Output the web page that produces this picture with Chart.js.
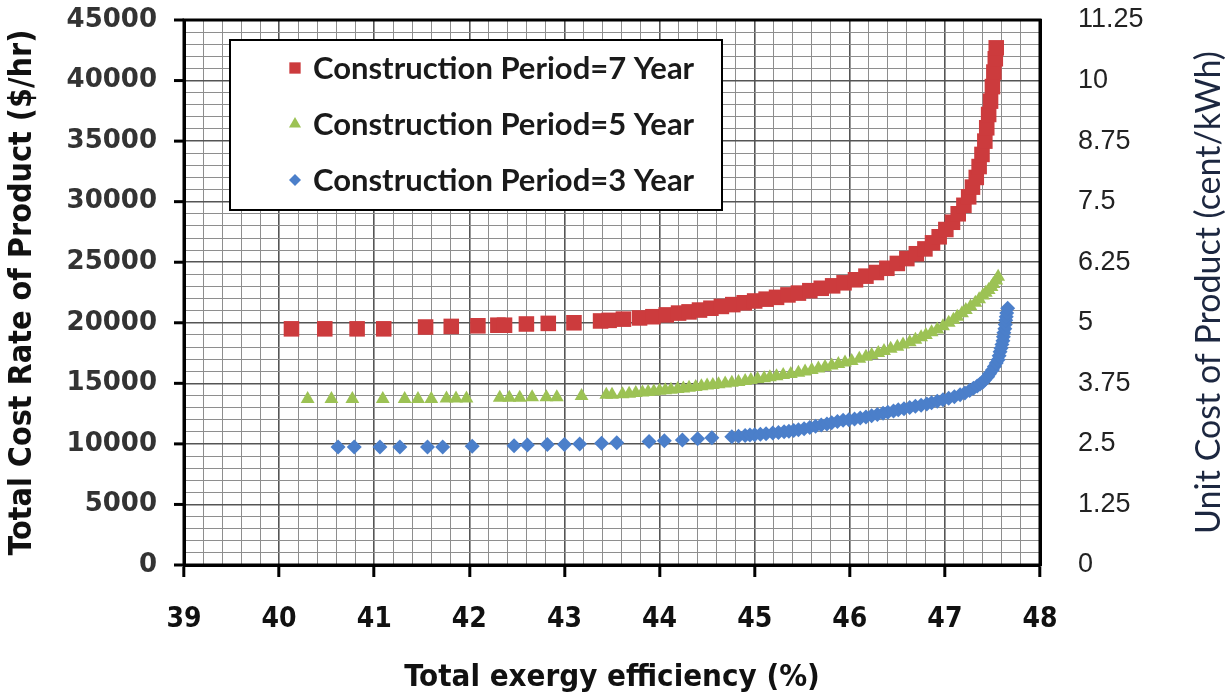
<!DOCTYPE html>
<html>
<head>
<meta charset="utf-8">
<script src="https://cdn.jsdelivr.net/npm/chart.js@4.4.0/dist/chart.umd.min.js"></script>
<style>
  body { margin: 0; background: #fff; }
  #wrap { width: 1228px; height: 697px; }
</style>
</head>
<body>
<div id="wrap"><canvas id="costChart" width="1228" height="697"></canvas></div>
<script>
// Construction period = 7 years
const eff7 = [40.13, 40.48, 40.82, 41.10, 41.54, 41.81, 42.09, 42.30, 42.37, 42.60, 42.83, 43.10, 43.38, 43.47, 43.62, 43.79, 43.93, 44.07, 44.20, 44.31, 44.42, 44.54, 44.65, 44.77, 44.89, 45.00, 45.12, 45.23, 45.35, 45.46, 45.58, 45.70, 45.82, 45.94, 46.06, 46.17, 46.28, 46.39, 46.50, 46.60, 46.70, 46.79, 46.87, 46.94, 47.01, 47.08, 47.14, 47.20, 47.25, 47.29, 47.33, 47.36, 47.39, 47.42, 47.44, 47.46, 47.48, 47.50, 47.515, 47.53, 47.54];
const cost7 = [19500, 19500, 19500, 19500, 19650, 19700, 19750, 19800, 19800, 19900, 19950, 20000, 20150, 20200, 20300, 20400, 20500, 20650, 20800, 20900, 21050, 21200, 21350, 21500, 21650, 21800, 21950, 22100, 22300, 22450, 22650, 22850, 23050, 23300, 23550, 23850, 24150, 24500, 24900, 25300, 25700, 26100, 26600, 27100, 27700, 28300, 29000, 29700, 30400, 31200, 32000, 32900, 33900, 35000, 36100, 37200, 38300, 39500, 40700, 41800, 42700];

// Construction period = 5 years
const eff5 = [40.30, 40.55, 40.77, 41.09, 41.32, 41.46, 41.60, 41.76, 41.86, 41.97, 42.32, 42.42, 42.53, 42.66, 42.81, 42.92, 43.18, 43.44, 43.50,
  43.61, 43.68, 43.75, 43.82, 43.88, 43.94, 44.00, 44.06, 44.12, 44.19, 44.25, 44.31, 44.38, 44.44, 44.50, 44.56, 44.62, 44.69, 44.76, 44.83,
  44.90, 44.96, 45.03, 45.10, 45.16, 45.23, 45.30, 45.38, 45.46, 45.53, 45.60, 45.67, 45.74, 45.81, 45.88, 45.95, 46.02, 46.10, 46.17, 46.23,
  46.30, 46.36, 46.43, 46.50, 46.56, 46.63, 46.69, 46.75, 46.80, 46.86, 46.92, 46.98, 47.04, 47.09, 47.13, 47.18, 47.22, 47.27, 47.32, 47.36,
  47.40, 47.43, 47.46, 47.49, 47.51, 47.54, 47.56];
const cost5 = [13700, 13700, 13700, 13700, 13700, 13700, 13700, 13750, 13750, 13750, 13800, 13800, 13800, 13850, 13850, 13850, 13950, 14050, 14050,
  14100, 14150, 14200, 14240, 14280, 14330, 14380, 14430, 14480, 14530, 14580, 14640, 14700, 14760, 14820, 14870, 14920, 14980, 15040, 15120,
  15200, 15280, 15350, 15420, 15500, 15590, 15680, 15770, 15870, 15980, 16100, 16220, 16350, 16470, 16600, 16720, 16850, 17020, 17190, 17340,
  17500, 17670, 17850, 18020, 18200, 18400, 18600, 18800, 19000, 19220, 19450, 19720, 20000, 20250, 20500, 20780, 21050, 21350, 21650, 21950,
  22250, 22480, 22700, 22950, 23200, 23500, 23800];

// Construction period = 3 years
const eff3 = [40.62, 40.79, 41.06, 41.27, 41.56, 41.72, 42.03, 42.47, 42.61, 42.82, 43.00, 43.16, 43.39, 43.55, 43.89, 44.05, 44.24, 44.40, 44.55,
  44.76, 44.83, 44.90, 44.95, 45.00, 45.06, 45.12, 45.19, 45.25, 45.31, 45.36, 45.41, 45.46, 45.52, 45.58, 45.64, 45.70, 45.76, 45.81, 45.87,
  45.93, 45.99, 46.05, 46.11, 46.17, 46.23, 46.29, 46.35, 46.40, 46.46, 46.51, 46.57, 46.63, 46.69, 46.75, 46.81, 46.86, 46.92, 46.98, 47.04,
  47.10, 47.16, 47.21, 47.26, 47.30, 47.34, 47.37, 47.40, 47.42, 47.45, 47.47, 47.50, 47.52, 47.54, 47.56, 47.57, 47.58, 47.59, 47.60, 47.61,
  47.615, 47.62, 47.63, 47.635, 47.64, 47.645, 47.65, 47.66];
const cost3 = [9750, 9750, 9750, 9750, 9750, 9750, 9800, 9850, 9900, 9950, 9950, 10000, 10050, 10100, 10200, 10250, 10330, 10420, 10500,
  10580, 10640, 10700, 10730, 10750, 10790, 10830, 10890, 10950, 11000, 11050, 11100, 11160, 11250, 11350, 11450, 11550, 11650, 11740, 11850,
  11950, 12000, 12050, 12140, 12230, 12330, 12430, 12530, 12620, 12720, 12810, 12900, 13000, 13100, 13200, 13300, 13390, 13520, 13650, 13770,
  13900, 14050, 14210, 14400, 14600, 14780, 14950, 15120, 15290, 15550, 15800, 16100, 16400, 16670, 16940, 17270, 17600, 17900, 18200, 18520,
  18840, 19170, 19500, 19850, 20200, 20500, 20800, 21200];

const seriesLabels = ['Construction Period=7 Year', 'Construction Period=5 Year', 'Construction Period=3 Year'];

const xMin = 39, xMax = 48;
const yMax = 45000;          // left axis, $/hr
const unitMax = 11.25;       // right axis, cent/kWh
const unitStep = 1.25;

const narrow = "'Liberation Sans Narrow', 'DejaVu Sans Condensed', sans-serif";

function pts(xs, ys) {
  return xs.map((x, i) => ({ x: x, y: ys[i] }));
}
function isInt(v, step) {
  return Math.abs(v / step - Math.round(v / step)) < 1e-6;
}

// frame round the plot, short left ticks, right axis title, legend box
const extras = {
  id: 'extras',
  afterDraw(chart) {
    const ctx = chart.ctx;
    const a = chart.chartArea;
    const ys = chart.scales.y;
    ctx.save();
    ctx.strokeStyle = '#000';
    ctx.lineWidth = 3;
    ctx.strokeRect(a.left, a.top, a.right - a.left, a.bottom - a.top);
    ys.ticks.forEach(t => {
      if (!isInt(t.value, 5000)) return;
      const py = ys.getPixelForValue(t.value);
      ctx.beginPath();
      ctx.moveTo(a.left - 10, py);
      ctx.lineTo(a.left, py);
      ctx.stroke();
    });

    // right title, reads bottom to top
    const r = chart.scales.y1;
    ctx.translate(r.right - 19, (a.top + a.bottom) / 2);
    ctx.rotate(-Math.PI / 2);
    ctx.font = "34px Lato, 'Open Sans', sans-serif";
    ctx.fillStyle = '#1c2740';
    ctx.textAlign = 'center';
    ctx.textBaseline = 'middle';
    ctx.fillText('Unit Cost of Product (cent/kWh)', 0, 0);
    ctx.restore();

    // legend
    ctx.save();
    const bx = a.left + 46, by = a.top + 20, bw = 492, bh = 170;
    ctx.fillStyle = '#fff';
    ctx.fillRect(bx, by, bw, bh);
    ctx.strokeStyle = '#000';
    ctx.lineWidth = 2;
    ctx.strokeRect(bx, by, bw, bh);
    const sizes = [8, 7, 6];
    chart.data.datasets.forEach((ds, i) => {
      const cy = by + 28 + i * 56;
      ctx.fillStyle = ds.backgroundColor;
      ctx.strokeStyle = ds.backgroundColor;
      Chart.helpers.drawPoint(ctx, { pointStyle: ds.pointStyle, radius: sizes[i], rotation: 0, borderWidth: 0 }, bx + 65, cy);
      ctx.fillStyle = '#1a1a1a';
      ctx.font = "bold 31px Lato, 'Open Sans', sans-serif";
      ctx.textAlign = 'left';
      ctx.textBaseline = 'middle';
      ctx.fillText(ds.label, bx + 83, cy + 1);
    });
    ctx.restore();
  }
};

new Chart(document.getElementById('costChart'), {
  type: 'scatter',
  data: {
    datasets: [
      { label: seriesLabels[0], data: pts(eff7, cost7), pointStyle: 'rect', pointRadius: 11, backgroundColor: '#cc3b3d', borderWidth: 0 },
      { label: seriesLabels[1], data: pts(eff5, cost5), pointStyle: 'triangle', pointRadius: 8, backgroundColor: '#9cc254', borderWidth: 0 },
      { label: seriesLabels[2], data: pts(eff3, cost3), pointStyle: 'rectRot', pointRadius: 7.5, backgroundColor: '#4b7fca', borderWidth: 0 }
    ]
  },
  options: {
    responsive: false,
    animation: false,
    events: [],
    layout: { padding: { top: 20, left: 0, right: 0, bottom: 0 } },
    plugins: {
      legend: { display: false },
      tooltip: { enabled: false }
    },
    scales: {
      x: {
        type: 'linear',
        min: xMin,
        max: xMax,
        afterFit: s => { s.height = 132; },
        ticks: {
          stepSize: 0.2,
          autoSkip: false,
          maxRotation: 0,
          padding: 26,
          color: '#111',
          font: { family: narrow, weight: 'bold', size: 28 },
          callback: v => isInt(v, 1) ? String(Math.round(v)) : ''
        },
        grid: {
          color: c => (c.tick && isInt(c.tick.value, 1)) ? '#555' : '#8e8e8e',
          lineWidth: c => (c.tick && isInt(c.tick.value, 1)) ? 1.6 : 1,
          tickColor: c => (c.tick && isInt(c.tick.value, 1)) ? '#000' : 'rgba(0,0,0,0)',
          tickLength: 12,
          tickWidth: 3
        },
        border: { color: '#000', width: 3 },
        title: {
          display: true,
          text: 'Total exergy efficiency (%)',
          color: '#111',
          font: { family: narrow, weight: 'bold', size: 31 },
          padding: { top: 0, bottom: 0 }
        }
      },
      y: {
        min: 0,
        max: yMax,
        position: 'left',
        afterFit: s => { s.width = 184; },
        ticks: {
          stepSize: 1000,
          autoSkip: false,
          padding: 3,
          color: '#333',
          font: { family: "'DejaVu Sans'", weight: 'bold', size: 26 },
          callback: v => isInt(v, 5000) ? String(v) : ''
        },
        grid: {
          color: c => (c.tick && isInt(c.tick.value, 5000)) ? '#555' : '#8e8e8e',
          lineWidth: c => (c.tick && isInt(c.tick.value, 5000)) ? 1.6 : 1,
          tickColor: 'rgba(0,0,0,0)',
          tickLength: 24
        },
        border: { color: '#000', width: 3 },
        title: {
          display: true,
          text: 'Total Cost Rate of Product ($/hr)',
          color: '#111',
          font: { family: narrow, weight: 'bold', size: 32 },
          padding: { top: 3, bottom: 0 }
        }
      },
      y1: {
        min: 0,
        max: unitMax,
        position: 'right',
        afterFit: s => { s.width = 188; },
        ticks: {
          stepSize: unitStep,
          padding: 2,
          color: '#222',
          font: { family: "'Liberation Sans', Arial, sans-serif", size: 27 },
          callback: v => String(Math.round(v * 100) / 100)
        },
        grid: { drawOnChartArea: false, drawTicks: true, tickLength: 36, tickColor: 'rgba(0,0,0,0)' },
        border: { color: '#000', width: 3 }
      }
    }
  },
  plugins: [extras]
});
</script>
</body>
</html>
